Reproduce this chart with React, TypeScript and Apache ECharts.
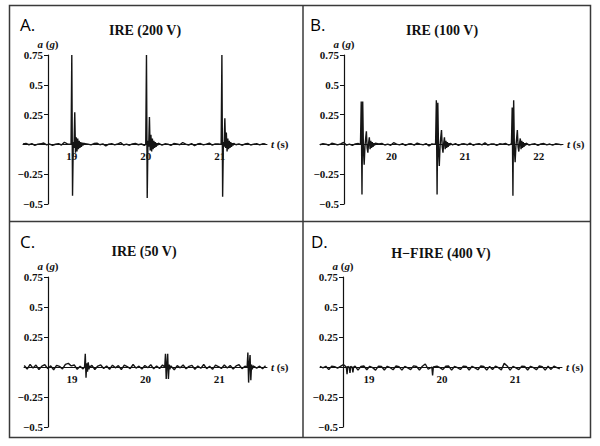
import React, { useEffect, useRef } from "react";
import * as echarts from "echarts";

// ---------- data ----------
const NOISE_STEP = 0.04; // s between baseline samples
const PULSE_STEP = 0.01; // s between samples inside a burst

const yTickValues = [-0.5, -0.25, 0, 0.25, 0.5, 0.75];
const xLabelsA = [19, 20, 21];
const xLabelsB = [20, 21, 22];
const xLabelsC = [19, 20, 21];
const xLabelsD = [19, 20, 21];

// Panel A: IRE (200 V)
const aNoiseStart = 18.34;
const aNoise = [
  0.004, 0.008, -0.003, 0.006, -0.009, 0.002, 0.005, 0.012, -0.004, 0.003, -0.007, 0.001, 0.006, -0.005, 0.018, 0.004, -0.006, 0.003, 0.009, -0.002,
  -0.008, 0.005, 0.002, -0.004, 0.007, 0.011, -0.003, 0.004, -0.012, 0.002, 0.006, -0.004, 0.003, 0.015, -0.005, 0.002, -0.007, 0.004, 0.008, -0.003,
  0.005, -0.009, 0.002, 0.006, 0.013, -0.004, 0.003, -0.006, 0.005, 0.002, -0.008, 0.007, 0.004, -0.003, 0.016, 0.002, -0.005, 0.006, -0.01, 0.003,
  0.007, -0.004, 0.002, 0.011, -0.006, 0.004, 0.003, -0.009, 0.006, 0.002, -0.004, 0.014, -0.003, 0.005, -0.007, 0.003, 0.009, -0.005, 0.002, 0.006,
  -0.004, 0.005, 0.003,
];
const aPulse1Start = 18.99;
const aPulse1 = [0.0, 0.75, -0.43, 0.02, -0.03, 0.27, -0.07, 0.06, -0.06, 0.05, -0.04, 0.03, -0.03, 0.02, -0.02, 0.015, -0.01, 0.01];
const aPulse2Start = 20.0;
const aPulse2 = [0.0, 0.75, -0.45, 0.03, -0.02, 0.23, -0.05, 0.08, -0.06, 0.05, -0.04, 0.03, -0.03, 0.02, -0.02, 0.01, -0.01, 0.01];
const aPulse3Start = 21.02;
const aPulse3 = [0.0, 0.75, -0.44, 0.02, -0.02, 0.22, -0.03, 0.1, -0.06, 0.05, -0.04, 0.03, -0.03, 0.02, -0.02, 0.01, -0.01, 0.01];

// Panel B: IRE (100 V)
const bNoiseStart = 19.03;
const bNoise = [
  -0.003, 0.006, 0.002, -0.007, 0.01, 0.003, -0.004, 0.005, 0.016, -0.006, 0.003, -0.009, 0.004, 0.007, -0.003, 0.012, -0.008, 0.002, 0.005, -0.011,
  0.004, 0.008, -0.005, 0.003, -0.007, 0.014, 0.002, -0.004, 0.006, -0.009, 0.003, 0.005, -0.006, 0.011, 0.002, -0.004, 0.007, -0.012, 0.004, 0.003,
  -0.006, 0.009, 0.002, -0.005, 0.015, -0.004, 0.006, -0.008, 0.003, 0.005, -0.003, 0.01, -0.007, 0.002, 0.006, -0.004, 0.013, -0.006, 0.003, 0.004,
  -0.009, 0.005, 0.002, 0.008, -0.005, 0.003, -0.011, 0.006, 0.004, -0.003, 0.012, -0.006, 0.002, 0.005, -0.008, 0.004, 0.007, -0.004, 0.003, -0.006,
  0.005, 0.002, -0.004,
];
const bPulse1Start = 19.57;
const bPulse1 = [0.0, 0.01, 0.36, -0.42, 0.36, -0.05, -0.17, -0.02, 0.05, 0.11, -0.03, -0.07, 0.01, 0.06, -0.04, 0.03, -0.03, 0.02, -0.02, 0.01, -0.01, 0.01];
const bPulse2Start = 20.59;
const bPulse2 = [0.0, 0.01, 0.37, -0.42, 0.35, -0.06, -0.18, -0.02, 0.06, 0.12, -0.02, -0.07, 0.01, 0.06, -0.04, 0.03, -0.03, 0.02, -0.02, 0.01, -0.01, 0.01];
const bPulse3Start = 21.62;
const bPulse3 = [0.0, 0.01, 0.31, -0.43, 0.37, -0.05, -0.15, -0.02, 0.05, 0.12, -0.02, -0.06, 0.01, 0.05, -0.04, 0.03, -0.03, 0.02, -0.02, 0.01, -0.01, 0.01];

// Panel C: IRE (50 V)
const cNoiseStart = 18.35;
const cNoise = [
  0.012, -0.017, 0.021, -0.009, 0.016, -0.021, 0.007, 0.019, -0.014, 0.01, -0.023, 0.014, 0.005, -0.016, 0.022, 0.03, 0.009, 0.017, -0.019, 0.006,
  -0.016, 0.02, -0.011, 0.014, -0.021, 0.008, 0.017, -0.013, 0.009, -0.019, 0.015, -0.007, 0.012, -0.022, 0.016, 0.004, -0.014, 0.021, -0.009, 0.007,
  -0.017, 0.013, -0.006, 0.019, -0.015, 0.009, -0.012, 0.016, 0.002, -0.014, 0.02, -0.023, 0.011, -0.007, 0.017, -0.015, 0.005, 0.014, -0.019, 0.009,
  -0.011, 0.021, -0.014, 0.007, -0.02, 0.015, 0.004, -0.012, 0.017, -0.008, 0.013, -0.017, 0.009, 0.019, -0.014, 0.006, -0.016, 0.012, 0.017, -0.009,
  0.007, -0.014, 0.01,
];
const cPulse1Start = 19.17;
const cPulse1 = [0.0, 0.11, -0.09, 0.03, -0.04, 0.04, -0.02, 0.01, 0.0];
const cPulse2Start = 20.26;
const cPulse2 = [0.0, 0.11, -0.1, 0.02, 0.11, -0.1, 0.02, -0.02, 0.01];
const cPulse3Start = 21.38;
const cPulse3 = [0.0, 0.12, -0.13, 0.03, 0.1, -0.11, 0.02, -0.02, 0.01];

// Panel D: H-FIRE (400 V)
const dNoiseStart = 18.33;
const dNoise = [
  0.005, -0.007, 0.006, -0.022, 0.007, 0.003, -0.009, 0.006, 0.02, -0.005, 0.004, -0.011, 0.007, -0.026, 0.005, 0.008, -0.023, 0.006, -0.005, -0.026,
  0.007, 0.004, -0.025, 0.006, -0.006, -0.023, 0.008, 0.003, -0.026, 0.005, -0.007, -0.021, 0.009, 0.004, -0.025, 0.006, 0.025, -0.019, 0.005, -0.024,
  0.007, -0.005, -0.022, 0.006, 0.008, -0.026, 0.004, -0.006, -0.021, 0.007, 0.005, -0.025, 0.006, -0.007, -0.023, 0.008, 0.004, -0.026, 0.005, -0.021,
  0.007, -0.006, -0.024, 0.03, 0.009, -0.026, 0.005, -0.007, -0.022, 0.007, 0.004, -0.025, 0.006, -0.005, -0.023, 0.008, 0.003, -0.026, 0.006, -0.02,
  0.007, -0.005, -0.016,
];
const dPulse1Start = 18.69;
const dPulse1 = [0.0, -0.06, 0.005, 0.0, 0.0, -0.05, 0.005, 0.0, 0.0, -0.045, 0.0];
const dPulse2Start = 19.86;
const dPulse2 = [0.0, -0.07, 0.0];

// ---------- helpers ----------
type Pulse = { start: number; values: number[] };

function buildSignal(start: number, noise: number[], pulses: Pulse[]) {
  const pts: number[][] = [];
  noise.forEach((v, i) => {
    const t = start + i * NOISE_STEP;
    const inside = pulses.some(
      (p) => t >= p.start - 0.015 && t <= p.start + (p.values.length - 1) * PULSE_STEP + 0.015
    );
    if (!inside) pts.push([+t.toFixed(4), v]);
  });
  pulses.forEach((p) =>
    p.values.forEach((v, i) => pts.push([+(p.start + i * PULSE_STEP).toFixed(4), v]))
  );
  pts.sort((a, b) => a[0] - b[0]);
  return pts;
}

const SERIF = "Liberation Serif";
const SANS = "Open Sans";
const INK = "#111";
const Y_MIN = yTickValues[0];
const Y_MAX = yTickValues[yTickValues.length - 1];

const panels = [
  {
    letter: "A.", title: "IRE (200 V)", letterPos: [20, 24], titlePos: [145, 30],
    grid: { left: 23, top: 55, width: 244, height: 149 }, xMin: 18.34, xMax: 21.64, yOffset: -25, xLabels: xLabelsA,
    data: buildSignal(aNoiseStart, aNoise, [
      { start: aPulse1Start, values: aPulse1 },
      { start: aPulse2Start, values: aPulse2 },
      { start: aPulse3Start, values: aPulse3 },
    ]),
  },
  {
    letter: "B.", title: "IRE (100 V)", letterPos: [310, 24], titlePos: [442, 30],
    grid: { left: 320, top: 55, width: 243, height: 149 }, xMin: 19.03, xMax: 22.33, yOffset: -24, xLabels: xLabelsB,
    data: buildSignal(bNoiseStart, bNoise, [
      { start: bPulse1Start, values: bPulse1 },
      { start: bPulse2Start, values: bPulse2 },
      { start: bPulse3Start, values: bPulse3 },
    ]),
  },
  {
    letter: "C.", title: "IRE (50 V)", letterPos: [20, 241], titlePos: [144, 251],
    grid: { left: 24, top: 277, width: 243, height: 150 }, xMin: 18.347, xMax: 21.65, yOffset: -24, xLabels: xLabelsC,
    data: buildSignal(cNoiseStart, cNoise, [
      { start: cPulse1Start, values: cPulse1 },
      { start: cPulse2Start, values: cPulse2 },
      { start: cPulse3Start, values: cPulse3 },
    ]),
  },
  {
    letter: "D.", title: "H\u2212FIRE (400 V)", letterPos: [311, 241], titlePos: [441, 253],
    grid: { left: 320, top: 277, width: 242, height: 150 }, xMin: 18.33, xMax: 21.64, yOffset: -23, xLabels: xLabelsD,
    data: buildSignal(dNoiseStart, dNoise, [
      { start: dPulse1Start, values: dPulse1 },
      { start: dPulse2Start, values: dPulse2 },
    ]),
  },
];

const labelStyle = { fontFamily: SERIF, fontWeight: "bold" as const, fontSize: 11, color: INK };
const italicRich = {
  i: { fontFamily: SERIF, fontWeight: "bold" as const, fontStyle: "italic" as const, fontSize: 11, color: INK },
  n: { fontFamily: SERIF, fontWeight: "bold" as const, fontSize: 11, color: INK },
};

function buildOption() {
  const grid = panels.map((p) => ({ ...p.grid, containLabel: false }));
  const xAxis = panels.map((p, i) => ({
    type: "value",
    gridIndex: i,
    min: p.xMin,
    max: p.xMax,
    position: "bottom",
    // place the time axis on a = 0 (offset from the grid bottom)
    offset: -p.grid.height * ((0 - Y_MIN) / (Y_MAX - Y_MIN)),
    axisLine: { show: true, onZero: false, lineStyle: { color: INK, width: 1 } },
    axisTick: { show: false },
    splitLine: { show: false },
    axisLabel: { ...labelStyle, customValues: p.xLabels, margin: 6, formatter: (v: number) => String(Math.round(v)) },
    name: "{i|t} {n|(s)}",
    nameLocation: "end",
    nameGap: 4,
    nameTextStyle: { ...labelStyle, rich: italicRich },
  }));
  const yAxis = panels.map((p, i) => ({
    type: "value",
    gridIndex: i,
    min: Y_MIN,
    max: Y_MAX,
    interval: 0.25,
    offset: p.yOffset,
    axisLine: { show: true, onZero: false, lineStyle: { color: INK, width: 1.2 } },
    axisTick: { show: true, length: 4, lineStyle: { color: INK, width: 1 } },
    splitLine: { show: false },
    axisLabel: {
      ...labelStyle,
      margin: 5,
      formatter: (v: number) => (Math.abs(v) < 1e-9 ? "" : v < 0 ? "\u2212" + String(Math.abs(v)) : String(v)),
    },
    name: "{i|a} {n|(}{i|g}{n|)}",
    nameLocation: "end",
    nameGap: 4,
    nameTextStyle: { ...labelStyle, rich: italicRich },
  }));
  const series = panels.map((p, i) => ({
    type: "line",
    xAxisIndex: i,
    yAxisIndex: i,
    data: p.data,
    showSymbol: false,
    symbol: "none",
    lineStyle: { color: "#151515", width: 1.4 },
    clip: true,
    z: 1,
  }));

  const border = "#3a3a3a";
  const graphic: any[] = [
    { type: "rect", shape: { x: 9.5, y: 5.5, width: 581, height: 432 }, style: { fill: "none", stroke: border, lineWidth: 1.5 }, silent: true },
    { type: "line", shape: { x1: 303, y1: 5.5, x2: 303, y2: 437.5 }, style: { stroke: border, lineWidth: 1.5 }, silent: true },
    { type: "line", shape: { x1: 9.5, y1: 221.5, x2: 590.5, y2: 221.5 }, style: { stroke: border, lineWidth: 1.5 }, silent: true },
  ];
  panels.forEach((p) => {
    graphic.push({
      type: "text",
      x: p.letterPos[0],
      y: p.letterPos[1],
      style: { text: p.letter, fill: "#000", fontFamily: SANS, fontSize: 17, textAlign: "left", textVerticalAlign: "middle" },
      silent: true,
    });
    graphic.push({
      type: "text",
      x: p.titlePos[0],
      y: p.titlePos[1],
      style: { text: p.title, fill: INK, fontFamily: SERIF, fontWeight: "bold", fontSize: 14, textAlign: "center", textVerticalAlign: "middle" },
      silent: true,
    });
  });

  return { animation: false, backgroundColor: "#fff", grid, xAxis, yAxis, series, graphic };
}

export default function App() {
  const ref = useRef<HTMLDivElement>(null);
  useEffect(() => {
    if (!ref.current) return;
    const chart = echarts.init(ref.current, undefined, { renderer: "svg" });
    chart.setOption(buildOption() as any);
    return () => chart.dispose();
  }, []);
  return (
    <div
      ref={ref}
      style={{ position: "absolute", left: 0, top: 0, width: 600, height: 446, background: "#fff" }}
    />
  );
}
